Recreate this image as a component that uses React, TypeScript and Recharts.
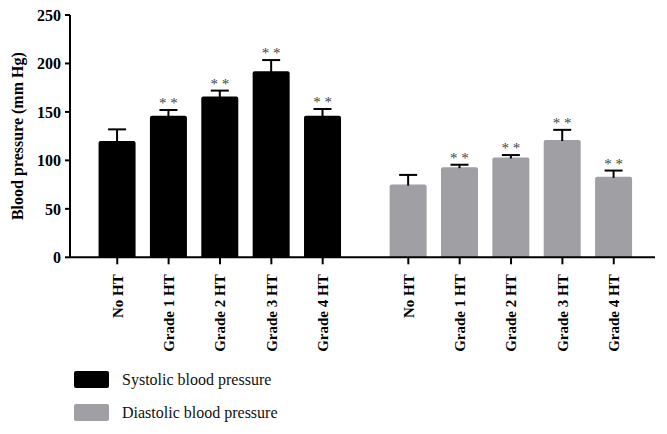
import React from 'react';
import { BarChart, Bar, XAxis, YAxis, Legend, Label } from 'recharts';

const groupLabels = ['No HT', 'Grade 1 HT', 'Grade 2 HT', 'Grade 3 HT', 'Grade 4 HT'];
const seriesNames = ['Systolic blood pressure', 'Diastolic blood pressure'];
const systolicMean = [120, 146, 166, 192, 146];
const systolicErr = [12, 6, 6, 11.5, 7];
const diastolicMean = [75, 93, 103, 121, 83];
const diastolicErr = [10, 2.5, 2.5, 10.5, 6.5];
const significance = ['', '**', '**', '**', '**'];
const yTicks = [0, 50, 100, 150, 200, 250];

const COLORS = ['#000000', '#a09fa4'];
const FONT = '"Liberation Serif", "Times New Roman", serif';
const GROUP_GAP = 1.667; // extra spacing between the two groups, in slot units

const seriesData = [
  { mean: systolicMean, err: systolicErr },
  { mean: diastolicMean, err: diastolicErr },
];

const data = seriesData.flatMap((s, g) =>
  groupLabels.map((label, i) => ({
    pos: 1 + i + g * (groupLabels.length - 1 + GROUP_GAP),
    label,
    value: s.mean[i],
    err: s.err[i],
    sig: significance[i],
    series: g,
  }))
);
const tickPositions = data.map((d) => d.pos);

const BarShape = (props: any) => {
  const { x, y, width, height, payload } = props;
  if (!payload || !height) return null;
  const fill = COLORS[payload.series];
  const pxPerUnit = height / payload.value;
  const cx = x + width / 2;
  const capY = y - payload.err * pxPerUnit;
  const r = 2;
  return (
    <g>
      <path
        d={`M${x},${y + height} L${x},${y + r} Q${x},${y} ${x + r},${y} L${x + width - r},${y} Q${x + width},${y} ${x + width},${y + r} L${x + width},${y + height} Z`}
        fill={fill}
      />
      <line x1={cx} x2={cx} y1={y + 1} y2={capY} stroke="#000" strokeWidth={2} />
      <line x1={cx - 9} x2={cx + 9} y1={capY} y2={capY} stroke="#000" strokeWidth={2} />
      {payload.sig ? (
        <text
          x={cx}
          y={capY - 2}
          textAnchor="middle"
          fontFamily={FONT}
          fontSize={15}
          fill="#444"
          style={{ WebkitFontSmoothing: 'antialiased' }}
        >
          {payload.sig.split('').join(' ')}
        </text>
      ) : null}
    </g>
  );
};

const XTick = (props: any) => {
  const { x, y, index } = props;
  const d = data[index];
  if (!d) return null;
  return (
    <g transform={`translate(${x},${y})`}>
      <text
        transform="rotate(-90)"
        textAnchor="end"
        dy="0.35em"
        fontFamily={FONT}
        fontWeight="bold"
        fontSize={15}
        fill="#000"
      >
        {d.label}
      </text>
    </g>
  );
};

const LegendContent = () => (
  <div style={{ fontFamily: FONT, fontSize: 16, color: '#111' }}>
    {seriesNames.map((name, i) => (
      <div
        key={name}
        style={{ display: 'flex', alignItems: 'center', height: 17, marginBottom: i === 0 ? 16 : 0 }}
      >
        <span
          style={{
            display: 'inline-block',
            width: 35,
            height: 17,
            background: COLORS[i],
            borderRadius: 2,
            marginRight: 13,
          }}
        />
        <span style={{ whiteSpace: 'nowrap' }}>{name}</span>
      </div>
    ))}
  </div>
);

export default function App() {
  return (
    <div style={{ position: 'absolute', left: 0, top: 0, width: 667, height: 434, background: '#fff' }}>
      <BarChart
        width={667}
        height={434}
        data={data}
        margin={{ top: 15, right: 12, left: 0, bottom: 0 }}
      >
        <XAxis
          dataKey="pos"
          type="number"
          domain={[0.08, 11.47]}
          ticks={tickPositions}
          interval={0}
          allowDataOverflow
          height={176.7}
          axisLine={{ stroke: '#000', strokeWidth: 2 }}
          tickLine={{ stroke: '#000', strokeWidth: 2 }}
          tickSize={7}
          tickMargin={10}
          tick={<XTick />}
        />
        <YAxis
          type="number"
          domain={[0, 250]}
          ticks={yTicks}
          interval={0}
          width={70}
          axisLine={{ stroke: '#000', strokeWidth: 2 }}
          tickLine={{ stroke: '#000', strokeWidth: 2 }}
          tickSize={5}
          tickMargin={4}
          tick={{ fontFamily: FONT, fontWeight: 'bold', fontSize: 16, fill: '#000' }}
        >
          <Label
            content={(p: any) => {
              const vb = p.viewBox || {};
              const cy = (vb.y || 0) + (vb.height || 0) / 2;
              return (
                <text
                  x={18}
                  y={cy}
                  transform={`rotate(-90, 18, ${cy})`}
                  textAnchor="middle"
                  dominantBaseline="central"
                  fontFamily={FONT}
                  fontWeight="bold"
                  fontSize={16}
                  fill="#000"
                >
                  Blood pressure (mm Hg)
                </text>
              );
            }}
          />
        </YAxis>
        <Legend
          layout="horizontal"
          verticalAlign="middle"
          align="center"
          content={<LegendContent />}
          wrapperStyle={{ position: 'absolute', left: 74, top: 371, width: 300, height: 60 }}
        />
        <Bar dataKey="value" barSize={37} shape={<BarShape />} isAnimationActive={false} />
      </BarChart>
    </div>
  );
}
